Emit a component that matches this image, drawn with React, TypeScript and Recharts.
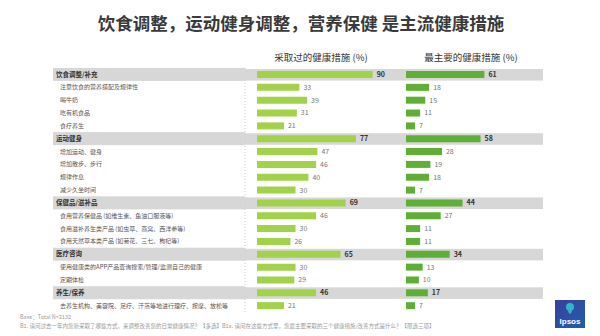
import React from 'react';
import { ComposedChart, Bar, XAxis, YAxis, LabelList } from 'recharts';

const rowLabels = [
  '饮食调整/补充',
  '注意饮食的营养搭配及规律性',
  '喝牛奶',
  '吃有机食品',
  '食疗养生',
  '运动健身',
  '增加运动、健身',
  '增加散步、步行',
  '规律作息',
  '减少久坐时间',
  '保健品/滋补品',
  '食用营养保健品 (如维生素、鱼油口服液等)',
  '食用滋补养生类产品 (如虫草、燕窝、西洋参等)',
  '食用天然草本类产品 (如菊花、三七、枸杞等)',
  '医疗咨询',
  '使用健康类的APP产品查询搜索/管理/监测自己的健康',
  '定期体检',
  '养生/保养',
  '去养生机构、美容院、足疗、汗蒸等地进行理疗、按摩、放松等',
];

const groupRows = [1, 0, 0, 0, 0, 1, 0, 0, 0, 0, 1, 0, 0, 0, 1, 0, 0, 1, 0];

const adoptedValues = [90, 33, 39, 31, 21, 77, 47, 46, 40, 30, 69, 46, 30, 26, 65, 30, 29, 46, 21];
const mainValues = [61, 18, 15, 11, 7, 58, 28, 19, 18, 7, 44, 27, 11, 11, 34, 13, 10, 17, 7];

const title = '饮食调整，运动健身调整，营养保健 是主流健康措施';
const headerAdopted = '采取过的健康措施 (%)';
const headerMain = '最主要的健康措施 (%)';
const baseNote = 'Base：Total N=2132';
const questionNote =
  'B1. 请问过去一年内您新采取了哪些方式，来调整改善您的日常健康情况？【多选】B1a. 请问在这些方式里，您最主要采取的三个健康措施/改善方式是什么？【限选三项】';

const data = rowLabels.map((label, i) => ({
  label,
  group: groupRows[i],
  band: groupRows[i],
  adopted: adoptedValues[i],
  main: mainValues[i],
}));

const FONT = '"Noto Sans CJK SC", "Noto Sans", sans-serif';
const GRAY = '#d7d7d7';
const LIGHT_GREEN = '#a2d24a';
const DARK_GREEN = '#5fae35';
const LABEL_W = 192;
const BAND_H = 13;

const LabelTick = (props: any) => {
  const { x, y, payload } = props;
  const idx = rowLabels.indexOf(payload.value);
  const isGroup = groupRows[idx] === 1;
  return (
    <g>
      {isGroup && (
        <rect x={x - LABEL_W} y={y - BAND_H / 2} width={LABEL_W} height={BAND_H} fill={GRAY} />
      )}
      <text
        x={x - LABEL_W + 3 + (isGroup ? 0 : 4)}
        y={y}
        dy="0.35em"
        fontSize={isGroup ? 6.5 : 6}
        fontWeight={isGroup ? 700 : 400}
        fill={isGroup ? '#333' : '#555'}
        fontFamily={FONT}
        textAnchor="start"
      >
        {payload.value}
      </text>
    </g>
  );
};

const makeValueLabel = () => (props: any) => {
  const { x, y, width, height, value, index } = props;
  const isGroup = groupRows[index] === 1;
  return (
    <text
      x={x + width + 4}
      y={y + height / 2}
      dy="0.35em"
      fontSize={7}
      fontWeight={isGroup ? 700 : 400}
      fill={isGroup ? '#333' : '#777'}
      fontFamily={FONT}
    >
      {value}
    </text>
  );
};

const BandShape = (props: any) => {
  const { x, y, width, height, payload } = props;
  if (!payload || payload.band !== 1) return null;
  return <rect x={x} y={y} width={width} height={height} fill={GRAY} />;
};

const Logo = () => (
  <svg width={30} height={28} viewBox="0 0 30 28">
    <defs>
      <linearGradient id="lg" x1="0" y1="0" x2="1" y2="1">
        <stop offset="0%" stopColor="#3a3f9a" />
        <stop offset="100%" stopColor="#1f5fae" />
      </linearGradient>
    </defs>
    <rect x={0} y={0} width={30} height={28} fill="url(#lg)" />
    <circle cx={15} cy={7} r={4} fill="#2fb7c8" />
    <path d="M13 11 Q15 17 17 11 Z" fill="#2fb7c8" />
    <text x={15} y={24} textAnchor="middle" fontSize={8} fontWeight={700} fill="#fff" fontFamily="Arial, sans-serif">
      Ipsos
    </text>
  </svg>
);

export default function App() {
  return (
    <div style={{ position: 'absolute', left: 0, top: 0, width: 600, height: 336, background: '#fff', fontFamily: FONT }}>
      <div
        style={{
          position: 'absolute',
          left: 0,
          top: 11,
          width: 602,
          textAlign: 'center',
          fontSize: 17.5,
          fontWeight: 700,
          color: '#3a3a3a',
          lineHeight: '24px',
        }}
      >
        {title}
      </div>
      <div style={{ position: 'absolute', left: 271, top: 50, width: 100, textAlign: 'center', fontSize: 9.5, color: '#333', whiteSpace: 'nowrap', lineHeight: '14px' }}>
        {headerAdopted}
      </div>
      <div style={{ position: 'absolute', left: 421, top: 50, width: 100, textAlign: 'center', fontSize: 9.5, color: '#333', whiteSpace: 'nowrap', lineHeight: '14px' }}>
        {headerMain}
      </div>
      <ComposedChart
        width={600}
        height={336}
        data={data}
        layout="vertical"
        margin={{ top: 68, right: 57, bottom: 24, left: 53 }}
        barCategoryGap={0}
        style={{ position: 'absolute', left: 0, top: 0 }}
      >
        <XAxis xAxisId="bg" type="number" domain={[0, 1]} hide />
        <XAxis xAxisId="L" type="number" domain={[0, 222.6]} padding={{ left: 12, right: 0 }} hide allowDataOverflow />
        <XAxis xAxisId="R" type="number" domain={[0, 106.6]} padding={{ left: 161, right: 0 }} hide allowDataOverflow />
        <YAxis yAxisId="L" type="category" dataKey="label" width={0} hide />
        <YAxis yAxisId="R" type="category" dataKey="label" width={0} hide />
        <YAxis
          yAxisId="lab"
          type="category"
          dataKey="label"
          width={LABEL_W}
          interval={0}
          tickLine={false}
          tickSize={0}
          tickMargin={0}
          axisLine={{ stroke: '#c8c8c8', strokeDasharray: '1 2' }}
          tick={<LabelTick />}
        />
        <Bar xAxisId="bg" yAxisId="lab" dataKey="band" barSize={BAND_H} shape={<BandShape />} isAnimationActive={false} />
        <Bar xAxisId="L" yAxisId="L" dataKey="adopted" barSize={7} fill={LIGHT_GREEN} isAnimationActive={false}>
          <LabelList dataKey="adopted" content={makeValueLabel()} />
        </Bar>
        <Bar xAxisId="R" yAxisId="R" dataKey="main" barSize={7} fill={DARK_GREEN} isAnimationActive={false}>
          <LabelList dataKey="main" content={makeValueLabel()} />
        </Bar>
      </ComposedChart>
      <div style={{ position: 'absolute', left: 20, top: 313, fontSize: 5.5, color: '#999', whiteSpace: 'nowrap', lineHeight: '8px' }}>
        {baseNote}
      </div>
      <div style={{ position: 'absolute', left: 20, top: 322, fontSize: 5.5, color: '#999', whiteSpace: 'nowrap', lineHeight: '8px' }}>
        {questionNote}
      </div>
      <div style={{ position: 'absolute', left: 555, top: 300 }}>
        <Logo />
      </div>
    </div>
  );
}
